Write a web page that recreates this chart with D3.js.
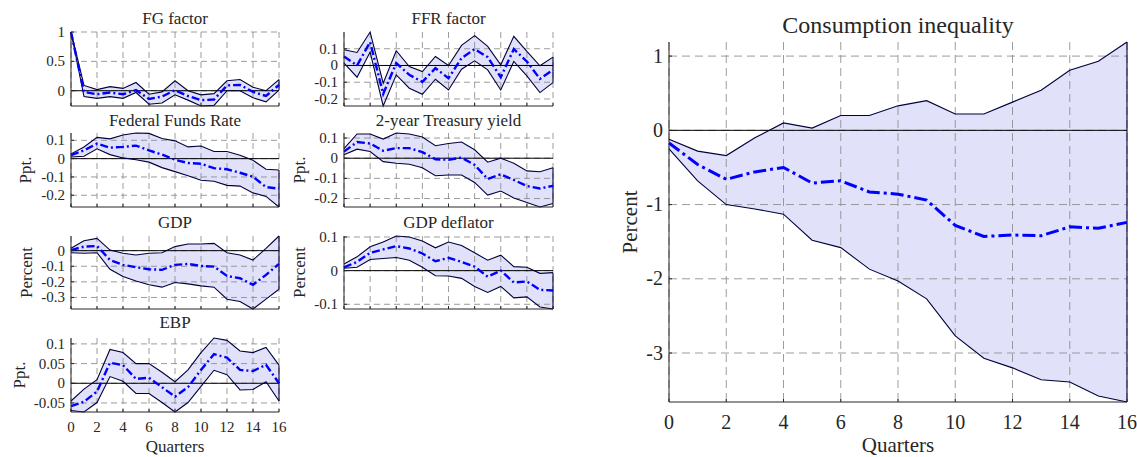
<!DOCTYPE html>
<html><head><meta charset="utf-8">
<script src="https://cdn.jsdelivr.net/npm/d3@7"></script>
<style>
body{margin:0;background:#fff}
svg{display:block}
</style>
</head><body><svg id="c" width="1137" height="457" font-family="'Liberation Serif', 'DejaVu Serif', 'Times New Roman', Times, serif"></svg>
<script>
// ---------- data ----------
const quarters = [0,1,2,3,4,5,6,7,8,9,10,11,12,13,14,15,16];
const xTicks = [0,2,4,6,8,10,12,14,16];

const fgMedian = [1,-0.02,-0.06,-0.03,-0.06,0.01,-0.14,-0.10,0.01,-0.09,-0.16,-0.15,0.09,0.10,-0.02,-0.09,0.10];
const fgUpper  = [1,0.09,0.02,0.07,0.04,0.14,-0.06,-0.02,0.17,0.00,-0.07,-0.05,0.17,0.19,0.06,0.00,0.19];
const fgLower  = [1,-0.10,-0.13,-0.10,-0.13,-0.03,-0.23,-0.21,-0.07,-0.16,-0.26,-0.25,0.00,0.00,-0.12,-0.19,0.01];
const fgTicks  = [0,0.5,1];

const ffrfMedian = [0.054,0,0.14,-0.17,0.014,-0.056,-0.098,-0.016,-0.076,0.044,0.098,0.05,-0.07,0.098,0.024,-0.08,-0.026];
const ffrfUpper  = [0.094,0.078,0.2,-0.106,0.088,-0.006,-0.036,0.054,0,0.12,0.178,0.114,0.004,0.174,0.084,-0.002,0.05];
const ffrfLower  = [0.014,-0.07,0.08,-0.242,-0.056,-0.136,-0.172,-0.082,-0.146,-0.022,0.028,-0.026,-0.146,0.024,-0.062,-0.162,-0.102];
const ffrfTicks  = [-0.2,-0.1,0,0.1];

const ffrMedian = [0.019,0.045,0.082,0.06,0.064,0.071,0.045,0.022,-0.006,-0.024,-0.028,-0.052,-0.058,-0.077,-0.099,-0.155,-0.164];
const ffrUpper  = [0.026,0.064,0.116,0.108,0.129,0.14,0.138,0.11,0.097,0.064,0.069,0.039,0.039,0.019,-0.009,-0.058,-0.062];
const ffrLower  = [0.009,0.013,0.054,0.022,0.004,-0.006,-0.019,-0.049,-0.071,-0.093,-0.118,-0.123,-0.146,-0.15,-0.187,-0.206,-0.264];
const ffrTicks  = [-0.2,-0.1,0,0.1];

const t2Median = [0.033,0.08,0.073,0.037,0.05,0.05,0.03,-0.005,-0.008,0.003,-0.033,-0.103,-0.08,-0.108,-0.138,-0.15,-0.137];
const t2Upper  = [0.047,0.12,0.12,0.095,0.125,0.12,0.105,0.062,0.073,0.08,0.042,-0.02,0,-0.025,-0.063,-0.067,-0.047];
const t2Lower  = [0.017,0.045,0.033,-0.017,-0.025,-0.03,-0.047,-0.087,-0.083,-0.083,-0.12,-0.183,-0.163,-0.197,-0.22,-0.242,-0.225];
const t2Ticks  = [-0.2,-0.1,0,0.1];

const gdpMedian = [0.004,0.026,0.03,-0.06,-0.091,-0.106,-0.119,-0.123,-0.091,-0.085,-0.098,-0.102,-0.162,-0.177,-0.219,-0.155,-0.085];
const gdpUpper  = [0.015,0.064,0.079,0.004,-0.017,-0.028,-0.017,-0.013,0.026,0.043,0.043,0.047,-0.013,-0.028,-0.06,0.015,0.094];
const gdpLower  = [-0.013,-0.017,-0.013,-0.119,-0.166,-0.194,-0.219,-0.234,-0.204,-0.213,-0.226,-0.234,-0.311,-0.326,-0.374,-0.311,-0.247];
const gdpTicks  = [-0.3,-0.2,-0.1,0];

const defMedian = [0.01,0.026,0.053,0.063,0.073,0.066,0.051,0.028,0.038,0.026,0.012,-0.018,0,-0.035,-0.032,-0.057,-0.059];
const defUpper  = [0.02,0.041,0.071,0.085,0.103,0.1,0.088,0.068,0.085,0.075,0.053,0.031,0.046,0.012,0.01,-0.008,-0.006];
const defLower  = [0.007,0.01,0.033,0.036,0.039,0.031,0.01,-0.015,-0.016,-0.023,-0.047,-0.065,-0.047,-0.081,-0.078,-0.108,-0.114];
const defTicks  = [-0.1,0,0.1];

const ebpMedian = [-0.058,-0.047,-0.021,0.052,0.046,0.011,0.014,-0.01,-0.034,-0.01,0.034,0.074,0.065,0.034,0.031,0.047,0];
const ebpUpper  = [-0.045,-0.015,0.009,0.086,0.078,0.05,0.05,0.028,0.004,0.034,0.078,0.115,0.109,0.082,0.078,0.091,0.046];
const ebpLower  = [-0.069,-0.073,-0.049,0.017,0.005,-0.026,-0.026,-0.049,-0.073,-0.049,-0.008,0.033,0.022,-0.017,-0.016,0.004,-0.045];
const ebpTicks  = [-0.05,0,0.05,0.1];

const ciMedian = [-0.17,-0.46,-0.66,-0.56,-0.5,-0.71,-0.68,-0.83,-0.86,-0.94,-1.28,-1.43,-1.41,-1.42,-1.3,-1.32,-1.24];
const ciUpper  = [-0.12,-0.28,-0.34,-0.1,0.1,0.03,0.2,0.2,0.33,0.4,0.22,0.22,0.38,0.54,0.81,0.93,1.19];
const ciLower  = [-0.25,-0.68,-1.0,-1.06,-1.13,-1.48,-1.58,-1.87,-2.03,-2.27,-2.77,-3.07,-3.2,-3.36,-3.39,-3.58,-3.66];
const ciTicks  = [-3,-2,-1,0,1];

// ---------- layout ----------
const FONT = "'Liberation Serif', 'DejaVu Serif', 'Times New Roman', Times, serif";
const small = {tick:15, title:17, label:17, dash:"8,3,2,3", medW:2.4, gridDash:"6,4"};
const big   = {tick:20, title:24, label:21, dash:"13,4,3,4", medW:3, gridDash:"8,5"};

const panels = [
  {title:"FG factor", ylabel:null, med:fgMedian, up:fgUpper, lo:fgLower, ticks:fgTicks,
   l:71,r:279,t:32,b:106, titleY:24, xLabels:false, st:small},
  {title:"FFR factor", ylabel:null, med:ffrfMedian, up:ffrfUpper, lo:ffrfLower, ticks:ffrfTicks,
   l:344,r:553,t:32,b:106, titleY:24, xLabels:false, st:small},
  {title:"Federal Funds Rate", ylabel:"Ppt.", ylx:25, med:ffrMedian, up:ffrUpper, lo:ffrLower, ticks:ffrTicks,
   l:71,r:279,t:133,b:207, titleY:126, xLabels:false, st:small},
  {title:"2-year Treasury yield", ylabel:"Ppt.", ylx:299, med:t2Median, up:t2Upper, lo:t2Lower, ticks:t2Ticks,
   l:344,r:553,t:133,b:207, titleY:126, xLabels:false, st:small},
  {title:"GDP", ylabel:"Percent", ylx:26, med:gdpMedian, up:gdpUpper, lo:gdpLower, ticks:gdpTicks,
   l:71,r:279,t:236,b:309, titleY:228, xLabels:false, st:small},
  {title:"GDP deflator", ylabel:"Percent", ylx:299, med:defMedian, up:defUpper, lo:defLower, ticks:defTicks,
   l:344,r:553,t:236,b:309, titleY:228, xLabels:false, st:small},
  {title:"EBP", ylabel:"Ppt.", ylx:19, med:ebpMedian, up:ebpUpper, lo:ebpLower, ticks:ebpTicks,
   l:71,r:279,t:338,b:412, titleY:328, xLabels:true, xtY:432, xlabY:452, st:small},
  {title:"Consumption inequality", ylabel:"Percent", ylx:630, med:ciMedian, up:ciUpper, lo:ciLower, ticks:ciTicks,
   l:669,r:1127,t:42,b:402, titleY:33, xLabels:true, xtY:429, xlabY:452, st:big}
];

const svg = d3.select("#c");
const fillCol = "#e1e1f9", edgeCol = "#00003c", gridCol = "#8c8c8c", axisCol = "#262626", textCol = "#262626";

function txt(g){ return g.append("text").attr("font-family",FONT).attr("fill",textCol); }

panels.forEach(p => {
  const st = p.st;
  const g = svg.append("g");
  const x = d3.scaleLinear().domain([0,16]).range([p.l,p.r]);
  const ymin = d3.min(p.lo), ymax = d3.max(p.up);
  const y = d3.scaleLinear().domain([ymin,ymax]).range([p.b,p.t]);
  const rows = quarters.map((q,i)=>({q, m:p.med[i], u:p.up[i], lo:p.lo[i]}));

  g.append("path").datum(rows)
    .attr("d", d3.area().x(d=>x(d.q)).y0(d=>y(d.lo)).y1(d=>y(d.u)))
    .attr("fill", fillCol).attr("stroke","none");

  g.selectAll(".gx").data(xTicks).join("line")
    .attr("x1",d=>x(d)).attr("x2",d=>x(d)).attr("y1",p.t).attr("y2",p.b)
    .attr("stroke",gridCol).attr("stroke-width",1).attr("stroke-dasharray",st.gridDash).attr("opacity",0.85);
  g.selectAll(".gy").data(p.ticks).join("line")
    .attr("x1",p.l).attr("x2",p.r).attr("y1",d=>y(d)).attr("y2",d=>y(d))
    .attr("stroke",gridCol).attr("stroke-width",1).attr("stroke-dasharray",st.gridDash).attr("opacity",0.85);

  g.append("line").attr("x1",p.l).attr("x2",p.r).attr("y1",y(0)).attr("y2",y(0))
    .attr("stroke","#000").attr("stroke-width",1);

  ["u","lo"].forEach(k=>{
    g.append("path").datum(rows)
      .attr("d", d3.line().x(d=>x(d.q)).y(d=>y(d[k])))
      .attr("fill","none").attr("stroke",edgeCol).attr("stroke-width",1.1);
  });
  g.append("line").attr("x1",x(16)).attr("x2",x(16)).attr("y1",y(p.lo[16])).attr("y2",y(p.up[16]))
    .attr("stroke",edgeCol).attr("stroke-width",1.1);

  g.append("path").datum(rows)
    .attr("d", d3.line().x(d=>x(d.q)).y(d=>y(d.m)))
    .attr("fill","none").attr("stroke","#0000ff").attr("stroke-width",st.medW)
    .attr("stroke-dasharray",st.dash);

  g.append("line").attr("x1",p.l).attr("x2",p.l).attr("y1",p.t).attr("y2",p.b)
    .attr("stroke",axisCol).attr("stroke-width",1);
  g.append("line").attr("x1",p.l).attr("x2",p.r).attr("y1",p.b).attr("y2",p.b)
    .attr("stroke",axisCol).attr("stroke-width",1);
  g.selectAll(".tx").data(xTicks).join("line")
    .attr("x1",d=>x(d)).attr("x2",d=>x(d)).attr("y1",p.b).attr("y2",p.b-3)
    .attr("stroke",axisCol);
  g.selectAll(".ty").data(p.ticks).join("line")
    .attr("x1",p.l).attr("x2",p.l+3).attr("y1",d=>y(d)).attr("y2",d=>y(d))
    .attr("stroke",axisCol);

  p.ticks.forEach(v=>{
    txt(g).attr("x",p.l-6).attr("y",y(v)+st.tick*0.33)
      .attr("text-anchor","end").attr("font-size",st.tick).text(String(v));
  });

  if (p.xLabels) {
    xTicks.forEach(v=>{
      txt(g).attr("x",x(v)).attr("y",p.xtY)
        .attr("text-anchor","middle").attr("font-size",st.tick).text(String(v));
    });
    txt(g).attr("x",(p.l+p.r)/2).attr("y",p.xlabY)
      .attr("text-anchor","middle").attr("font-size",st.label).text("Quarters");
  }

  txt(g).attr("x",(p.l+p.r)/2).attr("y",p.titleY)
    .attr("text-anchor","middle").attr("font-size",st.title).text(p.title);

  if (p.ylabel) {
    const cy = (p.t+p.b)/2;
    txt(g).attr("transform",`translate(${p.ylx},${cy}) rotate(-90)`)
      .attr("text-anchor","middle").attr("dy","0.35em").attr("font-size",st.label).text(p.ylabel);
  }
});
</script>
</body></html>
